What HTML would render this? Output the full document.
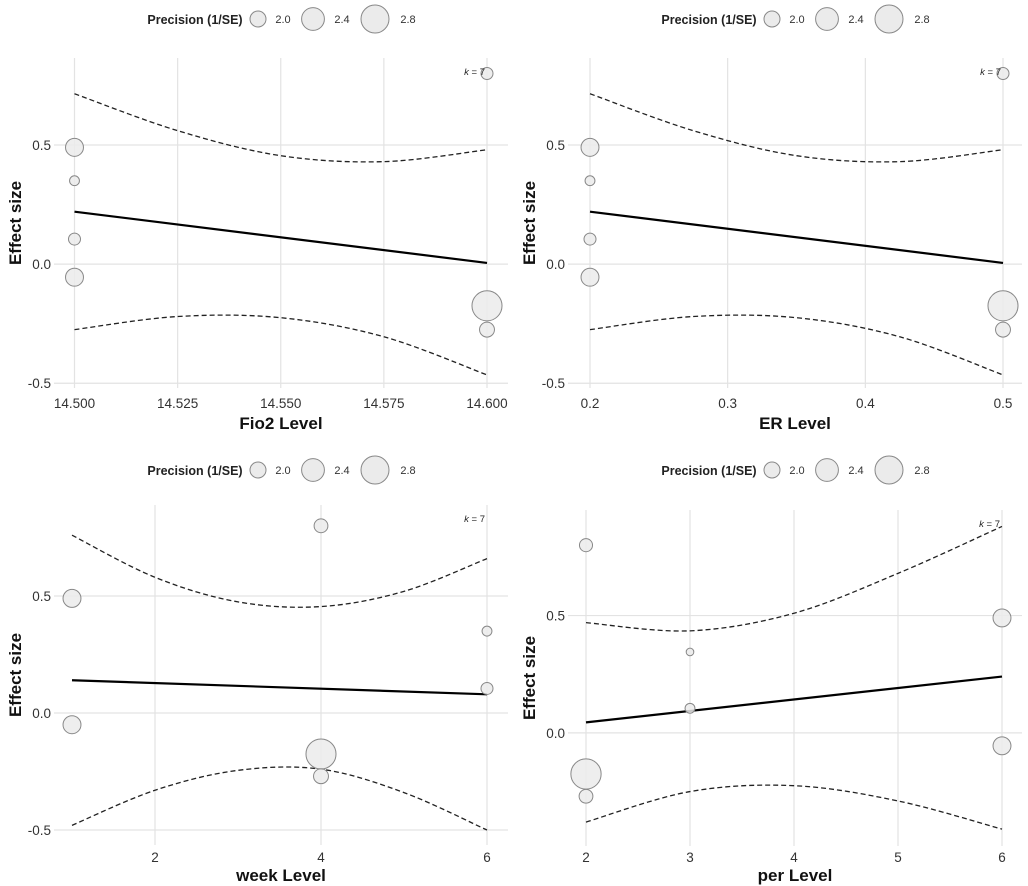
<!DOCTYPE html>
<html><head><meta charset="utf-8"><style>
html,body{margin:0;padding:0;background:#fff;}
svg{display:block;font-family:"Liberation Sans",sans-serif;}
</style></head><body>
<svg id="chart" width="1028" height="886" viewBox="0 0 1028 886"></svg>
<script>
// ---- data ----
const fio2Ticks = [14.500, 14.525, 14.550, 14.575, 14.600];
const fio2TickLabels = ["14.500","14.525","14.550","14.575","14.600"];
const fio2X = [14.5, 14.5, 14.5, 14.5, 14.6, 14.6, 14.6];
const fio2Y = [0.49, 0.35, 0.105, -0.055, 0.80, -0.175, -0.275];
const fio2Prec = [2.1, 1.76, 1.83, 2.1, 1.83, 2.98, 1.95];
const fio2LineX = [14.5, 14.6];
const fio2LineY = [0.22, 0.005];
const fio2CiX = [14.5, 14.525, 14.55, 14.575, 14.6];
const fio2CiUp = [0.715, 0.56, 0.455, 0.43, 0.48];
const fio2CiLo = [-0.275, -0.22, -0.225, -0.305, -0.465];

const erTicks = [0.2, 0.3, 0.4, 0.5];
const erTickLabels = ["0.2","0.3","0.4","0.5"];
const erX = [0.2, 0.2, 0.2, 0.2, 0.5, 0.5, 0.5];
const erY = [0.49, 0.35, 0.105, -0.055, 0.80, -0.175, -0.275];
const erPrec = [2.1, 1.76, 1.83, 2.1, 1.83, 2.98, 1.95];
const erLineX = [0.2, 0.5];
const erLineY = [0.22, 0.005];
const erCiX = [0.2, 0.275, 0.35, 0.425, 0.5];
const erCiUp = [0.715, 0.56, 0.455, 0.43, 0.48];
const erCiLo = [-0.275, -0.22, -0.225, -0.305, -0.465];

const weekTicks = [2, 4, 6];
const weekTickLabels = ["2","4","6"];
const weekX = [1, 1, 4, 4, 4, 6, 6];
const weekY = [0.49, -0.05, 0.80, -0.175, -0.27, 0.35, 0.105];
const weekPrec = [2.1, 2.1, 1.9, 2.98, 1.95, 1.76, 1.83];
const weekLineX = [1, 6];
const weekLineY = [0.14, 0.08];
const weekCiX = [1, 2, 3, 4, 5, 6];
const weekCiUp = [0.76, 0.58, 0.475, 0.455, 0.52, 0.66];
const weekCiLo = [-0.48, -0.33, -0.245, -0.24, -0.34, -0.5];

const perTicks = [2, 3, 4, 5, 6];
const perTickLabels = ["2","3","4","5","6"];
const perX = [2, 2, 2, 3, 3, 6, 6];
const perY = [0.80, -0.175, -0.27, 0.345, 0.105, 0.49, -0.055];
const perPrec = [1.87, 3.0, 1.9, 1.7, 1.76, 2.1, 2.1];
const perLineX = [2, 6];
const perLineY = [0.045, 0.24];
const perCiX = [2, 3, 4, 5, 6];
const perCiUp = [0.47, 0.435, 0.51, 0.68, 0.88];
const perCiLo = [-0.38, -0.25, -0.225, -0.29, -0.41];

const yTicks = [-0.5, 0, 0.5];
const yTickLabels = ["-0.5","0.0","0.5"];
const legendVals = [2.0, 2.4, 2.8];
const legendLabels = ["2.0","2.4","2.8"];

// ---- drawing ----
const NS = "http://www.w3.org/2000/svg";
const svg = document.getElementById("chart");
function mk(tag, attrs, parent){ const e=document.createElementNS(NS,tag); for(const k in attrs) e.setAttribute(k,attrs[k]); (parent||svg).appendChild(e); return e; }
function rad(p){ return Math.sqrt(Math.max(4, 64 + 165*(p-2))); }

function panel(o){
  const g = mk("g", {});
  
  
  const sx = v => o.px0 + (v - o.x0)/(o.x1 - o.x0)*(o.px1 - o.px0);
  const sy = v => o.py0 + (v - o.y0)/(o.y1 - o.y0)*(o.py1 - o.py0);
  // legend
  const lg = mk("g", {}, g);
  
  
  const lt = mk("text", {x:o.ox+195, y:o.ly+5, "text-anchor":"middle", "font-size":"12.5", "font-weight":"bold", fill:"#222"}, lg);
  lt.textContent = "Precision (1/SE)";
  const lcx = [258, 313, 375], ltx = [283, 342, 408];
  legendVals.forEach((v,i)=>{
    const c = mk("circle", {cx:o.ox+lcx[i], cy:o.ly, r:rad(v), fill:"#ebebeb", stroke:"#888", "stroke-width":"1"}, lg);
    
    
    const t = mk("text", {x:o.ox+ltx[i], y:o.ly+4, "text-anchor":"middle", "font-size":"11", fill:"#333"}, lg);
    t.textContent = legendLabels[i];
  });
  // grid
  yTicks.forEach((v,i)=>{
    const yy = sy(v);
    if (yy < o.py0-1 || yy > o.py1+2) return;
    const l = mk("line", {x1:o.gx0, x2:o.gx1, y1:yy, y2:yy, stroke:"#e3e3e3", "stroke-width":"1.2"}, g);
    
    
    const t = mk("text", {x:o.gx0-3, y:yy+5, "text-anchor":"end", "font-size":"13.5", fill:"#333"}, g);
    
    
    t.textContent = yTickLabels[i];
  });
  o.ticks.forEach((v,i)=>{
    const xx = sx(v);
    const l = mk("line", {x1:xx, x2:xx, y1:o.py0, y2:o.py1, stroke:"#e3e3e3", "stroke-width":"1.2"}, g);
    
    
    const t = mk("text", {x:xx, y:o.py1+o.tickOff, "text-anchor":"middle", "font-size":"13.5", fill:"#333"}, g);
    
    
    t.textContent = o.tickLabels[i];
  });
  // CI curves
  [o.ciUp, o.ciLo].forEach((arr, j)=>{
    const pts = o.ciX.map((x,i)=>[sx(x), sy(arr[i])]);
    let d = "M"+pts[0][0]+","+pts[0][1];
    for (let i=0;i<pts.length-1;i++){
      const p0=pts[Math.max(0,i-1)], p1=pts[i], p2=pts[i+1], p3=pts[Math.min(pts.length-1,i+2)];
      const c1=[p1[0]+(p2[0]-p0[0])/6, p1[1]+(p2[1]-p0[1])/6];
      const c2=[p2[0]-(p3[0]-p1[0])/6, p2[1]-(p3[1]-p1[1])/6];
      d += " C"+c1+" "+c2+" "+p2;
    }
    const p = mk("path", {d:d, fill:"none", stroke:"#222", "stroke-width":"1.3", "stroke-dasharray":"5,3"}, g);
    
    
  });
  // regression line
  const rl = mk("line", {x1:sx(o.lineX[0]), y1:sy(o.lineY[0]), x2:sx(o.lineX[1]), y2:sy(o.lineY[1]), stroke:"#000", "stroke-width":"2.2"}, g);
  
  
  // bubbles
  o.xs.forEach((x,i)=>{
    const c = mk("circle", {cx:sx(x), cy:sy(o.ys[i]), r:rad(o.prec[i]), fill:"#ebebeb", "fill-opacity":"0.85", stroke:"#888", "stroke-width":"1"}, g);
    
    
  });
  const k = mk("text", {x:o.px1-2, y:o.py0+17, "text-anchor":"end", "font-size":"9.5", fill:"#222"}, g);
  
  
  k.innerHTML = '<tspan font-style="italic">k</tspan> = 7';
  // axis titles
  const xt = mk("text", {x:(o.gx0+o.gx1)/2, y:o.py1+o.titleOff, "text-anchor":"middle", "font-size":"17", "font-weight":"bold", fill:"#111"}, g);
  
  
  xt.textContent = o.xlabel;
  const ycy = (o.py0+o.py1)/2;
  const yt = mk("text", {x:o.ox+21, y:ycy, transform:"rotate(-90 "+(o.ox+21)+" "+ycy+")", "text-anchor":"middle", "font-size":"17", "font-weight":"bold", fill:"#111"}, g);
  
  
  yt.textContent = "Effect size";
}

panel({name:"fio2", ox:0, ly:19, px0:74.5, px1:487, x0:14.5, x1:14.6, py0:58, py1:388, y0:0.865, y1:-0.52,
  tickOff:20, titleOff:41,
  gx0:54, gx1:508, ticks:fio2Ticks, tickLabels:fio2TickLabels, xs:fio2X, ys:fio2Y, prec:fio2Prec,
  lineX:fio2LineX, lineY:fio2LineY, ciX:fio2CiX, ciUp:fio2CiUp, ciLo:fio2CiLo, xlabel:"Fio2 Level"});
panel({name:"er", ox:514, ly:19, px0:590, px1:1003, x0:0.2, x1:0.5, py0:58, py1:388, y0:0.865, y1:-0.52,
  tickOff:20, titleOff:41,
  gx0:568, gx1:1022, ticks:erTicks, tickLabels:erTickLabels, xs:erX, ys:erY, prec:erPrec,
  lineX:erLineX, lineY:erLineY, ciX:erCiX, ciUp:erCiUp, ciLo:erCiLo, xlabel:"ER Level"});
panel({name:"week", ox:0, ly:470, px0:72, px1:487, x0:1, x1:6, py0:505, py1:845, y0:0.889, y1:-0.564,
  tickOff:17, titleOff:36,
  gx0:54, gx1:508, ticks:weekTicks, tickLabels:weekTickLabels, xs:weekX, ys:weekY, prec:weekPrec,
  lineX:weekLineX, lineY:weekLineY, ciX:weekCiX, ciUp:weekCiUp, ciLo:weekCiLo, xlabel:"week Level"});
panel({name:"per", ox:514, ly:470, px0:586, px1:1002, x0:2, x1:6, py0:510, py1:846, y0:0.95, y1:-0.482,
  tickOff:16, titleOff:35,
  gx0:568, gx1:1022, ticks:perTicks, tickLabels:perTickLabels, xs:perX, ys:perY, prec:perPrec,
  lineX:perLineX, lineY:perLineY, ciX:perCiX, ciUp:perCiUp, ciLo:perCiLo, xlabel:"per Level"});
</script>
</body></html>
